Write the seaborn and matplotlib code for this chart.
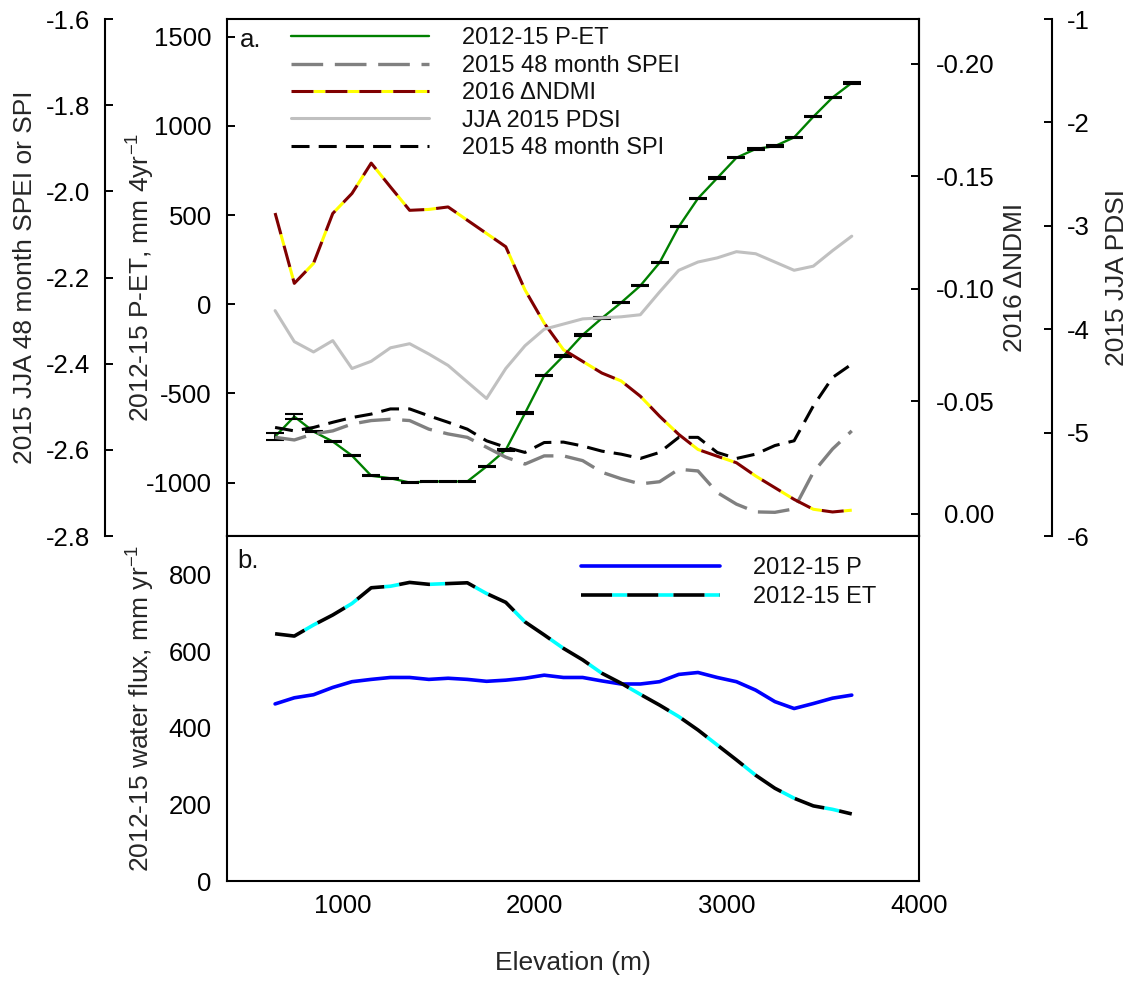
import numpy as np
import pandas as pd
import matplotlib
matplotlib.use("Agg")
import matplotlib.pyplot as plt
import seaborn as sns

# ---------------- data ----------------
elevation = [650, 750, 850, 950, 1050, 1150, 1250, 1350, 1450, 1550, 1650,
             1750, 1850, 1950, 2050, 2150, 2250, 2350, 2450, 2550, 2650,
             2750, 2850, 2950, 3050, 3150, 3250, 3350, 3450, 3550, 3650]

p_et = [-742, -630, -714, -770, -849, -962, -976, -1000, -994, -994, -994,
        -910, -817, -611, -400, -290, -172, -78, 9, 104, 233,
        435, 594, 708, 822, 871, 887, 936, 1052, 1160, 1242]
p_et_err = [20, 12, 4, 4, 4, 4, 4, 4, 4, 4, 4,
            4, 4, 4, 4, 4, 4, 4, 4, 4, 4,
            4, 4, 4, 4, 4, 4, 4, 4, 4, 6]

spei = [-2.571, -2.577, -2.563, -2.556, -2.540, -2.532, -2.529, -2.532, -2.552, -2.563, -2.571,
        -2.594, -2.617, -2.633, -2.614, -2.614, -2.625, -2.652, -2.667, -2.679, -2.674,
        -2.645, -2.649, -2.699, -2.726, -2.744, -2.745, -2.737, -2.652, -2.598, -2.556]

spi = [-2.548, -2.556, -2.548, -2.536, -2.525, -2.517, -2.505, -2.505, -2.521, -2.536, -2.552,
       -2.579, -2.594, -2.606, -2.583, -2.582, -2.591, -2.603, -2.610, -2.620, -2.606,
       -2.571, -2.571, -2.606, -2.620, -2.610, -2.590, -2.579, -2.498, -2.432, -2.401]

ndmi = [-0.1337, -0.1024, -0.1113, -0.1335, -0.1424, -0.1559, -0.1453, -0.1349, -0.1353, -0.1364, -0.1305,
        -0.1246, -0.1187, -0.0995, -0.0847, -0.0729, -0.0677, -0.0625, -0.0590, -0.0522, -0.0433,
        -0.0352, -0.0285, -0.0255, -0.0226, -0.0167, -0.0115, -0.0063, -0.0019, -0.0007, -0.0015]

pdsi = [-3.82, -4.12, -4.22, -4.11, -4.38, -4.31, -4.18, -4.14, -4.24, -4.35, -4.51,
        -4.67, -4.38, -4.16, -4.00, -3.95, -3.90, -3.89, -3.88, -3.86, -3.64,
        -3.43, -3.35, -3.31, -3.25, -3.27, -3.35, -3.43, -3.39, -3.24, -3.10]

precip = [462, 478, 486, 505, 520, 526, 531, 531, 526, 529, 526,
          521, 524, 529, 537, 531, 531, 522, 514, 514, 520,
          539, 544, 531, 520, 498, 468, 450, 463, 477, 485]

et = [645, 639, 668, 694, 724, 765, 769, 779, 774, 776, 778,
      750, 727, 676, 642, 607, 577, 542, 516, 487, 459,
      429, 394, 355, 316, 276, 242, 216, 196, 187, 175]

legend_a = ["2012-15 P-ET", "2015 48 month SPEI", "2016 \u0394NDMI",
            "JJA 2015 PDSI", "2015 48 month SPI"]
legend_b = ["2012-15 P", "2012-15 ET"]

x_ticks = [1000, 2000, 3000, 4000]
pet_ticks = [-1000, -500, 0, 500, 1000, 1500]
spei_ticks = [-2.8, -2.6, -2.4, -2.2, -2.0, -1.8, -1.6]
ndmi_ticks = [-0.20, -0.15, -0.10, -0.05, 0.00]
pdsi_ticks = [-6, -5, -4, -3, -2, -1]
flux_ticks = [0, 200, 400, 600, 800]

df = pd.DataFrame({"elevation": elevation, "p_et": p_et, "p_et_err": p_et_err,
                   "spei": spei, "spi": spi, "ndmi": ndmi, "pdsi": pdsi,
                   "precip": precip, "et": et})

# ---------------- style ----------------
sns.set_style("white")
plt.rcParams["font.family"] = ["Liberation Sans", "DejaVu Sans"]
plt.rcParams["mathtext.fontset"] = "custom"
plt.rcParams["mathtext.rm"] = "Liberation Sans"
plt.rcParams["mathtext.it"] = "Liberation Sans:italic"
plt.rcParams["axes.unicode_minus"] = False
plt.rcParams["axes.linewidth"] = 1.5
plt.rcParams["axes.edgecolor"] = "black"
plt.rcParams["text.color"] = "#111111"

FS = 19        # axis labels
TFS = 18.5     # tick labels
LFS = 17       # legend
fig = plt.figure(figsize=(11.38, 9.81), dpi=100)
ax = fig.add_axes([0.1995, 0.4536, 0.6081, 0.5270])
axb = fig.add_axes([0.1995, 0.1019, 0.6081, 0.3517])

tick_kw = dict(direction="in", length=5.5, width=1.4, labelsize=TFS, colors="black")

# ---- panel a: P-ET ----
sns.lineplot(data=df, x="elevation", y="p_et", ax=ax, color="#008000", lw=1.7,
             legend=False)
h_pet = ax.lines[-1]
ax.errorbar(df["elevation"], df["p_et"], yerr=df["p_et_err"], fmt="none",
            ecolor="black", elinewidth=1.2, capsize=6.8, capthick=1.5, zorder=3)
ax.set_xlim(400, 4000)
ax.set_ylim(-1300, 1600)
ax.set_xticks(x_ticks)
ax.set_yticks(pet_ticks)
ax.tick_params(axis="both", **tick_kw)
ax.tick_params(axis="y", pad=11)
ax.tick_params(axis="x", labelbottom=False)
ax.set_xlabel("")
ax.set_ylabel("2012-15 P-ET, mm 4yr$^{-1}$", fontsize=FS)
ax.yaxis.set_label_coords(-0.101, 0.5)
ax.text(0.0188, 0.9458, "a.", transform=ax.transAxes, fontsize=TFS,
        va="baseline", ha="left")

# ---- SPEI / SPI axis (outer left) ----
ax_s = ax.twinx()
ax_s.yaxis.tick_left()
ax_s.yaxis.set_label_position("left")
for s in ["right", "top", "bottom"]:
    ax_s.spines[s].set_visible(False)
ax_s.spines["left"].set_position(("axes", -0.1763))
sns.lineplot(data=df, x="elevation", y="spei", ax=ax_s, color="#808080", lw=2.4,
             linestyle=(0, (9.5, 3.5)), legend=False)
h_spei = ax_s.lines[-1]
sns.lineplot(data=df, x="elevation", y="spi", ax=ax_s, color="black", lw=2.2,
             linestyle=(0, (5.9, 3.0)), legend=False)
h_spi = ax_s.lines[-1]
ax_s.set_ylim(-2.8, -1.6)
ax_s.set_yticks(spei_ticks)
ax_s.set_yticklabels([f"{v:.1f}" for v in spei_ticks])
ax_s.tick_params(axis="y", **tick_kw)
ax_s.tick_params(axis="y", pad=11)
ax_s.set_ylabel("2015 JJA 48 month SPEI or SPI", fontsize=FS)
ax_s.yaxis.set_label_coords(-0.274, 0.5)
ax_s.set_xlabel("")

# ---- NDMI axis (right, inverted) ----
ax_n = ax.twinx()
for s in ["left", "top", "bottom"]:
    ax_n.spines[s].set_visible(False)
sns.lineplot(data=df, x="elevation", y="ndmi", ax=ax_n, color="#800000", lw=2.2,
             linestyle=(0, (7.2, 3.9)), gapcolor="#FFFF00", legend=False)
h_ndmi = ax_n.lines[-1]
ax_n.set_ylim(0.01, -0.22)
ax_n.set_yticks(ndmi_ticks)
ax_n.set_yticklabels([f"{v:.2f}" if v != 0 else "0.00" for v in ndmi_ticks])
ax_n.tick_params(axis="y", **tick_kw)
ax_n.tick_params(axis="y", pad=54.5)
for lab in ax_n.get_yticklabels():
    lab.set_horizontalalignment("right")
ax_n.set_ylabel("2016 \u0394NDMI", fontsize=FS)
ax_n.yaxis.set_label_coords(1.121, 0.5)
ax_n.set_xlabel("")

# ---- PDSI axis (outer right) ----
ax_p = ax.twinx()
for s in ["left", "top", "bottom"]:
    ax_p.spines[s].set_visible(False)
ax_p.spines["right"].set_position(("axes", 1.1918))
sns.lineplot(data=df, x="elevation", y="pdsi", ax=ax_p, color="#C0C0C0", lw=2.2,
             legend=False)
h_pdsi = ax_p.lines[-1]
ax_p.set_ylim(-6, -1)
ax_p.set_yticks(pdsi_ticks)
ax_p.tick_params(axis="y", **tick_kw)
ax_p.tick_params(axis="y", pad=11)
ax_p.set_ylabel("2015 JJA PDSI", fontsize=FS)
ax_p.yaxis.set_label_coords(1.268, 0.5)
ax_p.set_xlabel("")

ax_p.legend([h_pet, h_spei, h_ndmi, h_pdsi, h_spi], legend_a,
            loc="upper left", bbox_to_anchor=(0.2557, 0.972),
            bbox_transform=fig.transFigure, frameon=False, fontsize=LFS,
            handlelength=5.85, handletextpad=1.4, labelspacing=0.23,
            borderpad=0, borderaxespad=0)

# ---- panel b ----
sns.lineplot(data=df, x="elevation", y="precip", ax=axb, color="#0000FF", lw=2.6,
             legend=False)
h_p = axb.lines[-1]
sns.lineplot(data=df, x="elevation", y="et", ax=axb, color="black", lw=2.6,
             linestyle=(0, (8.6, 4.2)), gapcolor="#00FFFF", legend=False)
h_et = axb.lines[-1]
axb.set_xlim(400, 4000)
axb.set_ylim(0, 900)
axb.set_xticks(x_ticks)
axb.set_yticks(flux_ticks)
axb.tick_params(axis="both", **tick_kw)
axb.tick_params(axis="y", pad=11)
axb.tick_params(axis="x", pad=9)
axb.set_xlabel("Elevation (m)", fontsize=FS, labelpad=24)
axb.set_ylabel("2012-15 water flux, mm yr$^{-1}$", fontsize=FS)
axb.yaxis.set_label_coords(-0.101, 0.5)
axb.text(0.0145, 0.907, "b.", transform=axb.transAxes, fontsize=TFS,
         va="baseline", ha="left")
axb.legend([h_p, h_et], legend_b, loc="upper left",
           bbox_to_anchor=(0.5105, 0.4324), bbox_transform=fig.transFigure,
           frameon=False, fontsize=LFS, handlelength=5.9, handletextpad=1.4,
           labelspacing=0.3, borderpad=0, borderaxespad=0)

fig.savefig("out.png", dpi=100, facecolor="white")
